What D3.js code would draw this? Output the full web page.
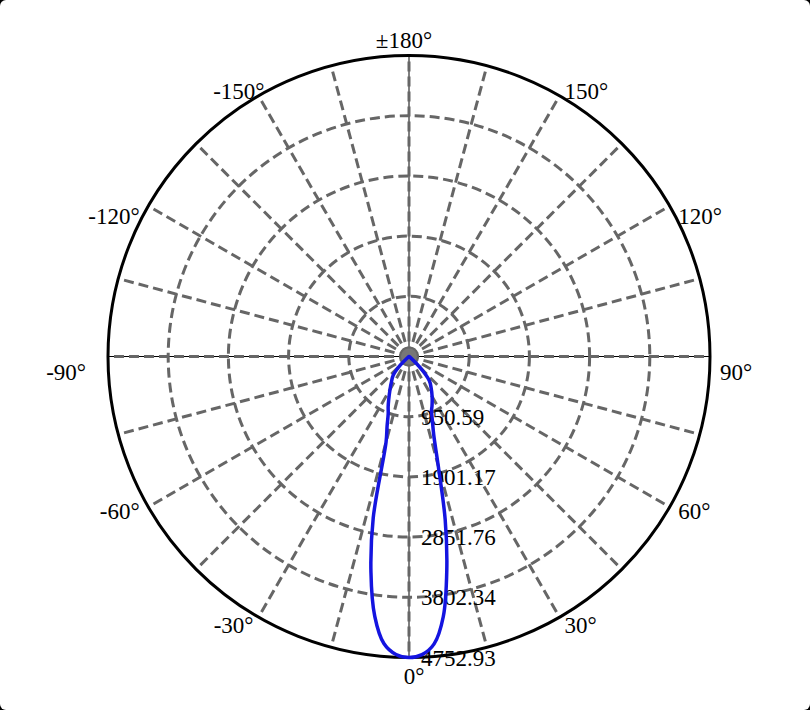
<!DOCTYPE html>
<html>
<head>
<meta charset="utf-8">
<script src="https://cdn.jsdelivr.net/npm/d3@7"></script>
<style>
  html, body { margin: 0; padding: 0; background: #000; }
  svg { display: block; }
</style>
</head>
<body>
<div id="chart"></div>
<script>
// Polar candela curve data (angle in degrees from nadir, intensity in cd)
const beamAngles = [0, 2.5, 5, 7.5, 10, 12.5, 15, 17.5, 20, 22.5, 25, 30, 35, 40, 45, 50, 55, 60, 90, 120, 150, 180];
const rightIntensity = [4752.93, 4712, 4555, 4145, 3435, 2640, 1780, 1300, 1080, 930, 860, 730, 610, 500, 250, 40, 0, 0, 0, 0, 0, 0];
const leftIntensity = [4752.93, 4710, 4550, 4140, 3460, 2610, 1400, 1150, 960, 860, 760, 600, 480, 390, 200, 30, 0, 0, 0, 0, 0, 0];

const ringValues = [950.59, 1901.17, 2851.76, 3802.34, 4752.93];
const angleTicks = [0, 30, 60, 90, 120, 150, 180, -150, -120, -90, -60, -30];
const angleLabels = ["0°", "30°", "60°", "90°", "120°", "150°", "±180°", "-150°", "-120°", "-90°", "-60°", "-30°"];

const width = 810;
const height = 710;
const cx = 409;
const cy = 356.5;
const R = 301;
const rad = Math.PI / 180;

const rScale = d3.scaleLinear()
    .domain([0, d3.max(ringValues)])
    .range([0, R]);

// theta measured from the bottom, positive towards the right
const px = (deg, r) => r * Math.sin(deg * rad);
const py = (deg, r) => r * Math.cos(deg * rad);

const svg = d3.select("#chart")
    .append("svg")
    .attr("width", width)
    .attr("height", height);

svg.append("rect")
    .attr("width", width)
    .attr("height", height)
    .attr("rx", 6)
    .attr("fill", "#fff");

const g = svg.append("g")
    .attr("transform", `translate(${cx}, ${cy})`);

// thin black axes under the grid
[0, 90].forEach(a => {
    g.append("line")
        .attr("x1", px(a, R)).attr("y1", py(a, R))
        .attr("x2", px(a + 180, R)).attr("y2", py(a + 180, R))
        .attr("stroke", "#000")
        .attr("stroke-width", 1);
});

// spokes every 15 degrees
g.selectAll(".spoke")
    .data(d3.range(0, 360, 15))
    .enter()
    .append("line")
    .attr("class", "spoke")
    .attr("x1", 0).attr("y1", 0)
    .attr("x2", d => px(d, R))
    .attr("y2", d => py(d, R))
    .attr("stroke", "#666")
    .attr("stroke-width", 3)
    .attr("stroke-dasharray", "10,5");

// dashed rings
g.selectAll(".ring")
    .data(ringValues.slice(0, -1))
    .enter()
    .append("circle")
    .attr("class", "ring")
    .attr("r", d => rScale(d))
    .attr("fill", "none")
    .attr("stroke", "#666")
    .attr("stroke-width", 3)
    .attr("stroke-dasharray", "10,5");

// outer circle
g.append("circle")
    .attr("r", rScale(d3.max(ringValues)))
    .attr("fill", "none")
    .attr("stroke", "#000")
    .attr("stroke-width", 3);

// center dot
g.append("circle")
    .attr("r", 8)
    .attr("fill", "#777");

// ring value labels along the 0 degree spoke
g.selectAll(".rlabel")
    .data(ringValues)
    .enter()
    .append("text")
    .attr("class", "rlabel")
    .attr("x", 12)
    .attr("y", d => rScale(d))
    .attr("dy", "0.35em")
    .attr("font-family", "'Liberation Serif', 'Times New Roman', serif")
    .attr("font-size", 23)
    .attr("fill", "#000")
    .text(d => d.toFixed(2));

// intensity curve: left half from 180 down to 0, then right half back up
const rawPoints = [];
for (let i = beamAngles.length - 1; i >= 0; i--) rawPoints.push([-beamAngles[i], leftIntensity[i]]);
for (let i = 1; i < beamAngles.length; i++) rawPoints.push([beamAngles[i], rightIntensity[i]]);
// collapse runs of zero intensity into a single centre point
const curvePoints = rawPoints.filter((d, i, arr) => !(d[1] === 0 && i > 0 && arr[i - 1][1] === 0));

const line = d3.lineRadial()
    .angle(d => Math.PI - d[0] * rad)
    .radius(d => rScale(d[1]))
    .curve(d3.curveCatmullRomClosed.alpha(0.5));

g.append("path")
    .datum(curvePoints)
    .attr("d", line)
    .attr("fill", "none")
    .attr("stroke", "#1414e0")
    .attr("stroke-width", 3.5)
    .attr("stroke-linejoin", "round");

// angle labels round the outside
function labelShift(a) {
    const m = Math.abs(a);
    if (m === 0) return 16;
    if (m <= 60) return 7;
    if (m <= 120) return 23;
    if (m <= 150) return 12;
    return 2;
}

g.selectAll(".alabel")
    .data(angleTicks)
    .enter()
    .append("text")
    .attr("class", "alabel")
    .attr("x", d => {
        const s = Math.sin(d * rad);
        const base = px(d, R + 10);
        if (Math.abs(d) === 90) return base + (d > 0 ? 0 : -12);
        if (d === -150) return base + 11;
        if (Math.abs(s) < 0.01) return base + (d === 0 ? 5 : -5);
        return base;
    })
    .attr("y", d => py(d, R + 10) + labelShift(d))
    .attr("text-anchor", d => {
        const s = Math.sin(d * rad);
        if (Math.abs(s) < 0.01) return "middle";
        return s > 0 ? "start" : "end";
    })
    .attr("font-family", "'Liberation Serif', 'Times New Roman', serif")
    .attr("font-size", 23)
    .attr("fill", "#000")
    .text((d, i) => angleLabels[i]);
</script>
</body>
</html>
